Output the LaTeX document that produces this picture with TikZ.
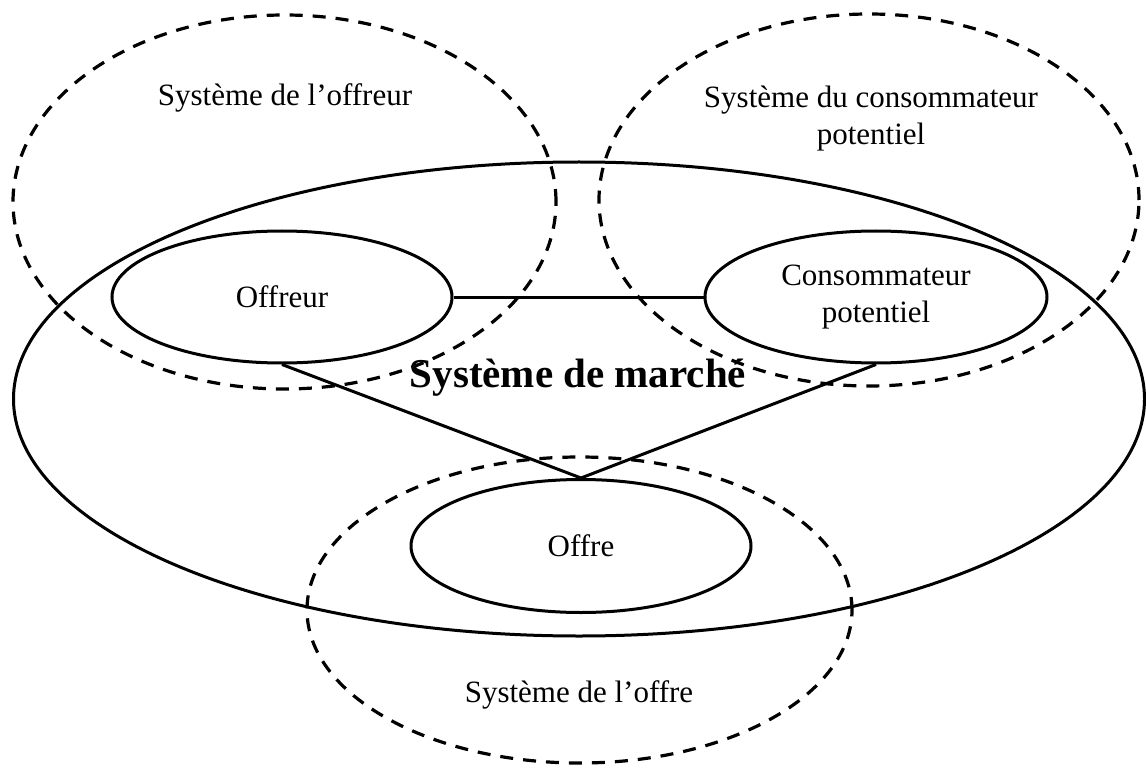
\documentclass[tikz,border=0pt]{standalone}
\usepackage{fontspec}
\setmainfont{Liberation Serif}
\usetikzlibrary{shapes.geometric}
\tikzset{
  solidell/.style={draw, ellipse, line width=3pt, inner sep=0pt},
  dashell/.style={draw, ellipse, line width=3.2pt, dash pattern=on 13pt off 10pt, inner sep=0pt},
  lbl/.style={font=\fontsize{31pt}{37pt}\selectfont, align=center, inner sep=0pt},
  conn/.style={line width=3pt}
}
\begin{document}
\begin{tikzpicture}[x=1pt,y=-1pt]
\useasboundingbox (0,0) rectangle (1146,770);
% large market system
\node[solidell, minimum width=1131pt, minimum height=474pt] (marche) at (579,399) {};
\node[font=\fontsize{41pt}{48pt}\selectfont\bfseries, inner sep=0pt] (marchelbl) at (578,378) {Système de marché};
% dashed systems
\node[dashell, minimum width=543pt, minimum height=374pt] (sysoffreur) at (284.5,202) {};
\node[lbl] (sysoffreurlbl) at (285,98) {Système de l’offreur};
\node[dashell, minimum width=540pt, minimum height=372pt] (syscons) at (869,200) {};
\node[lbl] (sysconslbl) at (871,119) {Système du consommateur\\potentiel};
\node[dashell, minimum width=545pt, minimum height=306pt] (sysoffre) at (579.5,610) {};
\node[lbl] (sysoffrelbl) at (579,695) {Système de l’offre};
% actors
\node[solidell, lbl, draw, minimum width=340pt, minimum height=132pt] (offreur) at (282,297) {Offreur};
\node[solidell, lbl, draw, minimum width=342pt, minimum height=132pt] (cons) at (876,297) {Consommateur\\potentiel};
\node[solidell, lbl, draw, minimum width=340pt, minimum height=133pt] (offre) at (581,546) {Offre};
% connectors
\draw[conn] (offreur) -- (cons);
\draw[conn] (offreur.south) -- (offre.north);
\draw[conn] (cons.south) -- (offre.north);
\end{tikzpicture}
\end{document}
